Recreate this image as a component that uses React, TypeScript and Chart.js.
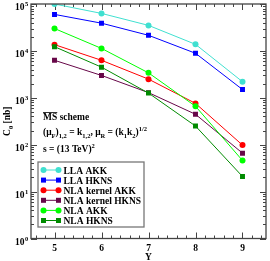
import React, { useEffect, useRef } from "react";
import { Chart, registerables } from "chart.js";

Chart.register(...registerables);

const RAPIDITY = [5, 6, 7, 8, 9];
const LLA_AKK = [1.0e5, 6.3e4, 3.5e4, 1.38e4, 2.2e3];
const LLA_HKNS = [6.0e4, 3.9e4, 2.15e4, 8.9e3, 1.5e3];
const NLA_KERNEL_AKK = [1.36e4, 6.3e3, 2.5e3, 760, 98];
const NLA_KERNEL_HKNS = [6.3e3, 3.0e3, 1.29e3, 445, 66];
const NLA_AKK = [3.0e4, 1.13e4, 3.4e3, 660, 46];
const NLA_HKNS = [1.23e4, 4.5e3, 1.26e3, 250, 21];

const SERIES_NAMES = ["LLA AKK", "LLA HKNS", "NLA kernel AKK", "NLA kernel HKNS", "NLA AKK", "NLA HKNS"];
const SERIES_VALUES = [LLA_AKK, LLA_HKNS, NLA_KERNEL_AKK, NLA_KERNEL_HKNS, NLA_AKK, NLA_HKNS];
const SERIES_COLORS = ["#40e0d0", "#0000ff", "#ff0000", "#670748", "#00ff00", "#008b00"];
const SERIES_MARKERS = ["circle", "rect", "circle", "rect", "circle", "rect"];
const X_TICKS = [5, 6, 7, 8, 9];
const Y_DECADES = [0, 1, 2, 3, 4, 5];

const FONT = "bold 9.5px 'Liberation Serif', 'Times New Roman', serif";
const SMALL = "bold 6.5px 'Liberation Serif', 'Times New Roman', serif";

type Part = [string, "n" | "sub" | "sup"];

function drawRich(ctx: CanvasRenderingContext2D, x: number, y: number, parts: Part[], measureOnly = false) {
  let cx = x;
  for (const [t, k] of parts) {
    ctx.font = k === "n" ? FONT : SMALL;
    const dy = k === "sub" ? 2.5 : k === "sup" ? -4 : 0;
    if (!measureOnly) ctx.fillText(t, cx, y + dy);
    cx += ctx.measureText(t).width;
  }
  return cx - x;
}

function drawMarker(ctx: CanvasRenderingContext2D, style: string, x: number, y: number, color: string) {
  ctx.fillStyle = color;
  if (style === "circle") {
    ctx.beginPath();
    ctx.arc(x, y, 3, 0, Math.PI * 2);
    ctx.fill();
  } else {
    ctx.fillRect(x - 2.5, y - 2.5, 5, 5);
  }
}

const decorPlugin = {
  id: "decor",
  beforeDatasetsDraw(chart: any) {
    const { ctx, chartArea: a, scales } = chart;
    const xs = scales.x;
    const ys = scales.y;
    ctx.save();
    ctx.strokeStyle = "#444";
    ctx.lineWidth = 1;
    // x ticks (inward, top and bottom)
    for (let v = 4.6; v <= 9.41; v += 0.2) {
      const px = Math.round(xs.getPixelForValue(v)) + 0.5;
      const major = Math.abs(v - Math.round(v)) < 1e-6;
      const len = major ? 6 : 3;
      ctx.beginPath();
      ctx.moveTo(px, a.bottom);
      ctx.lineTo(px, a.bottom - len);
      ctx.moveTo(px, a.top);
      ctx.lineTo(px, a.top + len);
      ctx.stroke();
    }
    // y ticks (inward, left and right)
    for (let p = 0; p <= 5; p++) {
      for (let m = 1; m <= 9; m++) {
        if (p === 5 && m > 1) break;
        const val = m * Math.pow(10, p);
        const py = Math.round(ys.getPixelForValue(val)) + 0.5;
        const len = m === 1 ? 6 : 3;
        ctx.beginPath();
        ctx.moveTo(a.left, py);
        ctx.lineTo(a.left + len, py);
        ctx.moveTo(a.right, py);
        ctx.lineTo(a.right - len, py);
        ctx.stroke();
      }
    }
    ctx.restore();
  },
  afterDraw(chart: any) {
    const { ctx, chartArea: a, scales } = chart;
    const xs = scales.x;
    const ys = scales.y;
    ctx.save();
    // frame
    ctx.strokeStyle = "#444";
    ctx.lineWidth = 1.3;
    ctx.strokeRect(a.left, a.top, a.right - a.left, a.bottom - a.top);

    ctx.fillStyle = "#000";
    ctx.textBaseline = "alphabetic";
    // x tick labels
    ctx.font = FONT;
    ctx.textAlign = "center";
    for (const v of X_TICKS) {
      ctx.fillText(String(v), xs.getPixelForValue(v), a.bottom + 12);
    }
    ctx.fillText("Y", (a.left + a.right) / 2, a.bottom + 21);
    // y tick labels
    ctx.textAlign = "left";
    for (const p of Y_DECADES) {
      const py = ys.getPixelForValue(Math.pow(10, p));
      ctx.font = FONT;
      ctx.fillText("10", a.left - 16, py + 6);
      ctx.font = SMALL;
      ctx.fillText(String(p), a.left - 6, py + 2);
    }
    // y title
    ctx.save();
    const titleParts: Part[] = [["C", "n"], ["0", "sub"], [" [nb]", "n"]];
    const tw = drawRich(ctx, 0, 0, titleParts, true);
    ctx.translate(10, (a.top + a.bottom) / 2);
    ctx.rotate(-Math.PI / 2);
    drawRich(ctx, -tw / 2, 0, titleParts);
    ctx.restore();

    // annotations
    const ax = a.left + 12;
    ctx.font = FONT;
    ctx.fillText("MS scheme", ax, 119.5);
    const msw = ctx.measureText("MS").width;
    ctx.strokeStyle = "#000";
    ctx.lineWidth = 0.8;
    ctx.beginPath();
    ctx.moveTo(ax, 112.5);
    ctx.lineTo(ax + msw, 112.5);
    ctx.stroke();
    drawRich(ctx, ax, 135, [
      ["(\u03bc", "n"], ["F", "sub"], [")", "n"], ["1,2", "sub"], [" = k", "n"], ["1,2", "sub"],
      [", \u03bc", "n"], ["R", "sub"], [" = (k", "n"], ["1", "sub"], ["k", "n"], ["2", "sub"], [")", "n"], ["1/2", "sup"],
    ]);
    drawRich(ctx, ax, 151.5, [["s = (13 TeV)", "n"], ["2", "sup"]]);

    // legend
    const lx = a.left + 7;
    const ly = 162;
    ctx.fillStyle = "#fff";
    ctx.fillRect(lx, ly, 106, 65);
    ctx.strokeStyle = "#777";
    ctx.lineWidth = 1.3;
    ctx.strokeRect(lx, ly, 106, 65);
    chart.data.datasets.forEach((ds: any, i: number) => {
      const ry = ly + 8 + i * 10.1;
      const x1 = lx + 5.5;
      const x2 = lx + 20.5;
      ctx.strokeStyle = ds.borderColor;
      ctx.lineWidth = 1;
      ctx.beginPath();
      ctx.moveTo(x1, ry);
      ctx.lineTo(x2, ry);
      ctx.stroke();
      drawMarker(ctx, ds.pointStyle, x1, ry, ds.borderColor);
      drawMarker(ctx, ds.pointStyle, x2, ry, ds.borderColor);
      ctx.fillStyle = "#000";
      ctx.font = FONT;
      ctx.textAlign = "left";
      ctx.fillText(ds.label, lx + 25.5, ry + 3.5);
    });
    ctx.restore();
  },
};

export default function App() {
  const ref = useRef<HTMLCanvasElement>(null);
  useEffect(() => {
    if (!ref.current) return;
    const datasets = SERIES_NAMES.map((name, i) => ({
      label: name,
      data: RAPIDITY.map((x, j) => ({ x, y: SERIES_VALUES[i][j] })),
      borderColor: SERIES_COLORS[i],
      backgroundColor: SERIES_COLORS[i],
      pointBackgroundColor: SERIES_COLORS[i],
      pointBorderColor: SERIES_COLORS[i],
      pointStyle: SERIES_MARKERS[i],
      pointRadius: SERIES_MARKERS[i] === "circle" ? 3 : 3.5,
      pointBorderWidth: 0,
      borderWidth: 1,
      tension: 0,
      fill: false,
      order: SERIES_NAMES.length - i,
    }));
    const chart = new Chart(ref.current, {
      type: "line",
      data: { datasets },
      options: {
        animation: false,
        responsive: false,
        devicePixelRatio: 1,
        layout: { padding: { left: 31, right: 2, top: 4, bottom: 22.5 } },
        plugins: { legend: { display: false }, tooltip: { enabled: false } },
        scales: {
          x: { type: "linear", min: 4.5, max: 9.5, display: false },
          y: { type: "logarithmic", min: 1, max: 1e5, display: false },
        },
      },
      plugins: [decorPlugin],
    } as any);
    return () => chart.destroy();
  }, []);
  return (
    <div style={{ position: "absolute", left: 0, top: 0, width: 270, height: 261, background: "#fff" }}>
      <canvas ref={ref} width={270} height={261} />
    </div>
  );
}
